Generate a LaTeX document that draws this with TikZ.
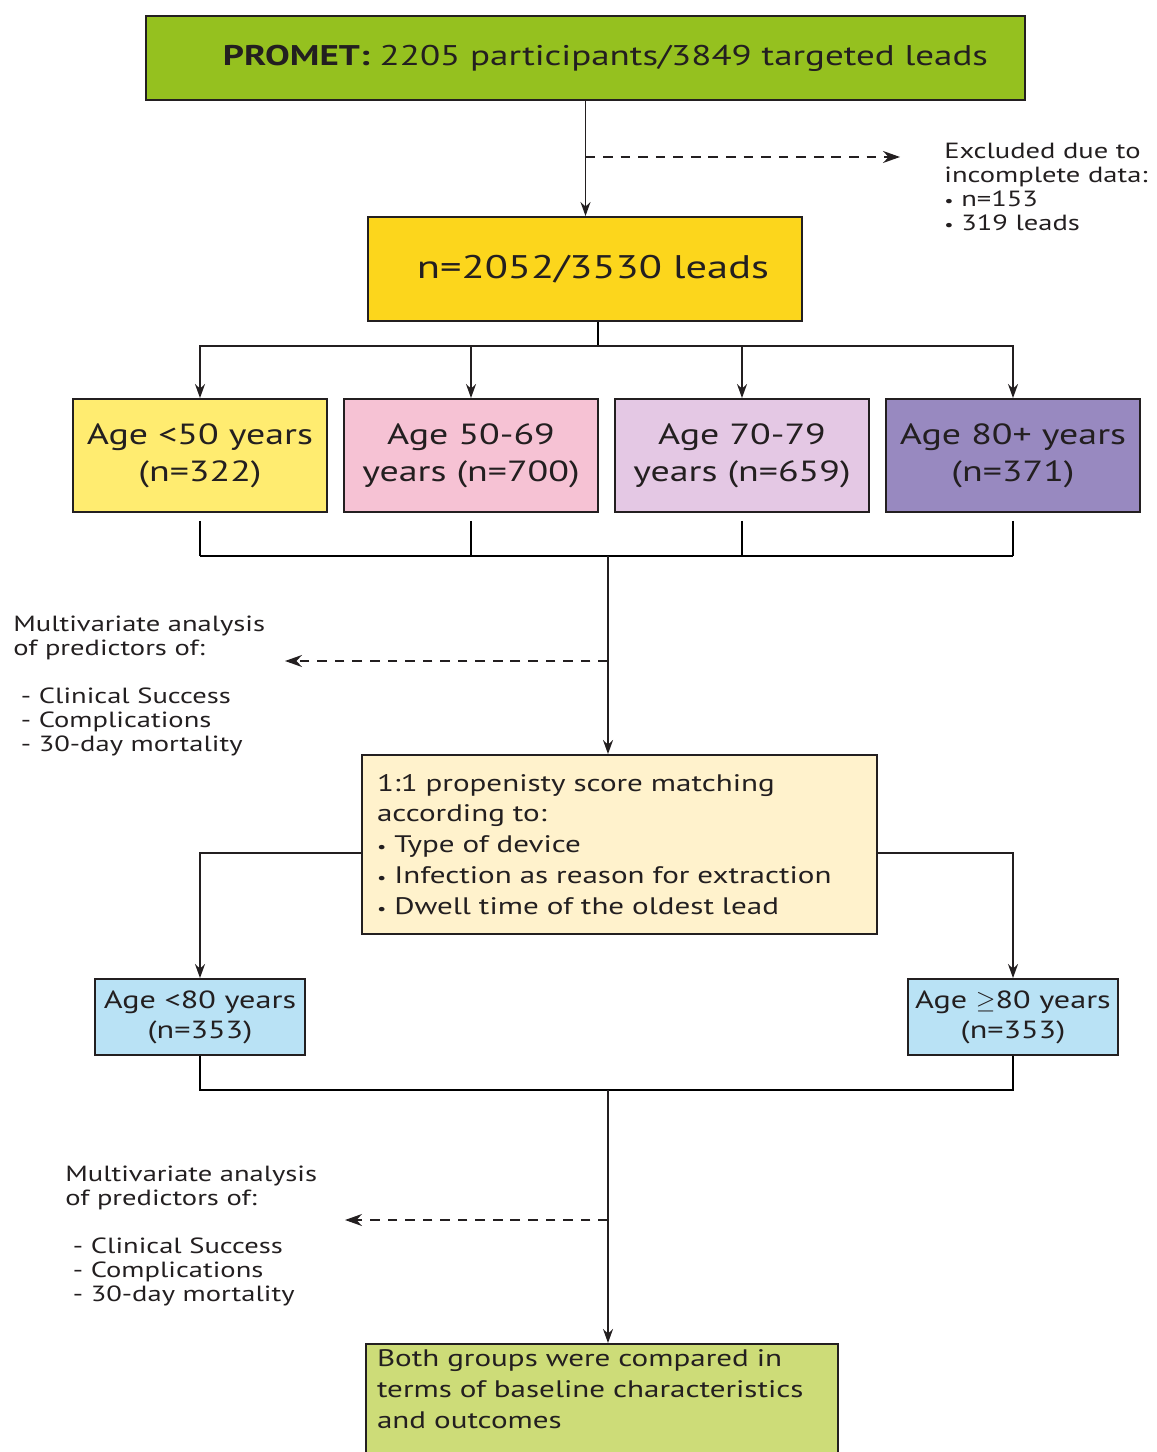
\documentclass[tikz,border=0pt]{standalone}
\usepackage{fontspec}
\setmainfont{PT Sans}[FakeStretch=1.3]
\usepackage{tikz}
\usetikzlibrary{arrows.meta,positioning,calc}
\definecolor{promet}{RGB}{149,193,31}
\definecolor{cohort}{RGB}{252,214,28}
\definecolor{ageA}{RGB}{255,236,112}
\definecolor{ageB}{RGB}{246,194,212}
\definecolor{ageC}{RGB}{228,200,228}
\definecolor{ageD}{RGB}{152,137,192}
\definecolor{match}{RGB}{255,242,204}
\definecolor{group}{RGB}{185,226,245}
\definecolor{result}{RGB}{205,220,120}
\definecolor{ink}{RGB}{35,31,32}

\begin{document}
\begin{tikzpicture}[x=0.02cm, y=-0.02cm,
    box/.style={draw=ink, line width=1.1pt, inner sep=0pt, align=center, text=ink},
    arr/.style={-{Stealth[length=2.8mm,width=2.0mm]}, draw=ink, line width=0.85pt},
    dasharr/.style={arr, dash pattern=on 5.5pt off 4.5pt, -{Stealth[length=3.4mm,width=2.4mm]}},
    note/.style={anchor=north west, inner sep=0pt, align=left, text=ink,
      font=\fontsize{12.5}{13.6}\selectfont}]
  \useasboundingbox (0,0) rectangle (1156,1452);

  % cohort
  \node[box, fill=promet, minimum width=17.58cm, minimum height=1.68cm,
    font=\fontsize{16.2}{20}\selectfont] (top) at (585.5,58)
    {\hspace*{0.8cm}\textbf{PROMET:} 2205 participants/3849 targeted leads};
  \node[box, fill=cohort, minimum width=8.68cm, minimum height=2.08cm,
    font=\fontsize{18.6}{22}\selectfont] (cohort) at (585,269) {\hspace*{0.32cm}n=2052/3530 leads};
  \coordinate (excl) at (900,157);
  \node[note] (exclnote) at (944,143) {Excluded due to\\incomplete data:\\{\small•} n=153\\{\small•} 319 leads};
  \draw[arr] (top.south) -- (top.south |- cohort.north);
  \draw[dasharr] (top.south |- excl) -- (excl);

  % age groups
  \foreach \i/\x/\c/\t in {1/200/ageA/Age <50 years\\(n=322),
                           2/471/ageB/Age 50-69\\years (n=700),
                           3/742/ageC/Age 70-79\\years (n=659),
                           4/1013/ageD/Age 80+ years\\(n=371)}
    \node[box, fill=\c, minimum width=5.08cm, minimum height=2.26cm,
      font=\fontsize{16.6}{21}\selectfont] (age\i) at (\x,455.5) {\t};
  \coordinate (hub1) at (598,346);
  \draw[line width=0.85pt] (cohort.south -| hub1) -- (hub1);
  \foreach \i in {1,...,4}
    \draw[arr] (hub1) -| (age\i.north);

  \coordinate (hub2) at (608,556);
  \foreach \i in {1,...,4}
    \draw[line width=0.85pt] ([yshift=-0.16cm]age\i.south) -- (age\i.south |- hub2);
  \draw[line width=0.85pt] (age1.south |- hub2) -- (age4.south |- hub2);

  % matching
  \node[box, fill=match, minimum width=10.3cm, minimum height=3.58cm, align=left,
    text width=9.7cm, font=\fontsize{13.6}{17.6}\selectfont] (psm) at (619.5,844.5)
    {1:1 propenisty score matching\\according to:\\{\small•} Type of device\\
     {\small•} Infection as reason for extraction\\{\small•} Dwell time of the oldest lead};
  \draw[arr] (hub2) -- (hub2 |- psm.north);
  \coordinate (multi1) at (285,661);
  \draw[dasharr] (hub2 |- multi1) -- (multi1);
  \node[note] (mv1) at (13,616) {Multivariate analysis\\of predictors of:\\[13.6pt]
    \ - Clinical Success\\\ - Complications\\\ - 30-day mortality};

  \node[box, fill=group, minimum width=4.2cm, minimum height=1.52cm,
    font=\fontsize{14.1}{17}\selectfont] (young) at (200,1017) {Age <80 years\\(n=353)};
  \node[box, fill=group, minimum width=4.2cm, minimum height=1.52cm,
    font=\fontsize{14.1}{17}\selectfont] (old) at (1013,1017) {Age $\geq$80 years\\(n=353)};
  \draw[arr] ([yshift=-0.17cm]psm.west) -| (young.north);
  \draw[arr] ([yshift=-0.17cm]psm.east) -| (old.north);

  % comparison
  \coordinate (hub3) at (608,1090);
  \draw[line width=0.85pt] (young.south) |- (hub3) -| (old.south);
  \node[box, fill=result, anchor=north, text width=9.0cm, align=left,
    inner xsep=0.22cm, inner ysep=0.12cm, text depth=2.2cm,
    font=\fontsize{13.6}{17.4}\selectfont] (out) at (602,1343)
    {Both groups were compared in\\terms of baseline characteristics\\and outcomes};
  \draw[arr] (hub3) -- (hub3 |- out.north);
  \coordinate (multi2) at (345,1220);
  \draw[dasharr] (hub3 |- multi2) -- (multi2);
  \node[note] (mv2) at (65,1166) {Multivariate analysis\\of predictors of:\\[13.6pt]
    \ - Clinical Success\\\ - Complications\\\ - 30-day mortality};
\end{tikzpicture}
\end{document}
